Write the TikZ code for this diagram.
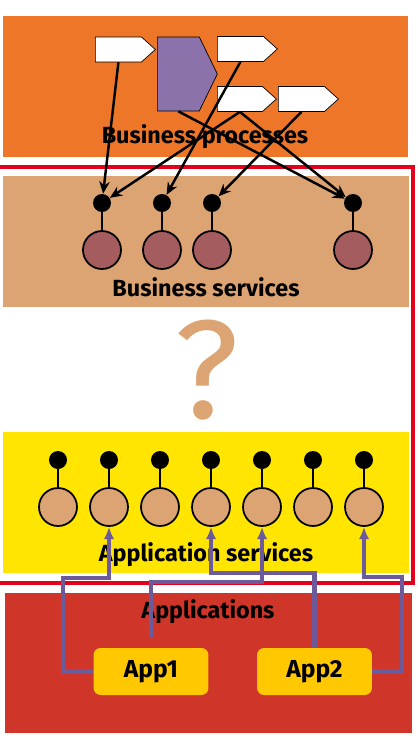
\documentclass[tikz,border=0pt]{standalone}
\usepackage{fontspec}
\setmainfont{Fira Sans}
\usetikzlibrary{positioning, calc, arrows.meta, shapes.symbols}

\definecolor{procorange}{HTML}{EE7628}
\definecolor{svctan}{HTML}{DBA472}
\definecolor{appyellow}{HTML}{FFE500}
\definecolor{appred}{HTML}{CF3529}
\definecolor{boxyellow}{HTML}{FFC800}
\definecolor{procpurple}{HTML}{8B72AA}
\definecolor{svcbrown}{HTML}{A45C5E}
\definecolor{linkpurple}{HTML}{6C5A9A}
\definecolor{framered}{HTML}{E2001A}

\tikzset{
    layerlabel/.style={font=\bfseries\fontsize{13.3}{15}\selectfont, inner sep=0pt},
    procstep/.style={signal, signal to=east, signal pointer angle=84, draw, fill=white,
        minimum width=1.2cm, minimum height=0.5cm, inner sep=0pt, anchor=west},
    iface/.style={circle, fill=black, minimum size=0.36cm, inner sep=0pt},
    service/.style={circle, draw, line width=1pt, minimum size=0.76cm, inner sep=0pt},
    appbox/.style={rectangle, rounded corners=4pt, fill=boxyellow, minimum width=2.3cm,
        minimum height=0.94cm, font=\bfseries\fontsize{14}{16}\selectfont},
    uses/.style={-{Stealth[length=7pt,width=6pt]}, line width=1.4pt},
    realizes/.style={-{Latex[length=7pt,width=6pt]}, linkpurple, line width=2.4pt},
}

\begin{document}
\begin{tikzpicture}[x=0.02cm, y=-0.02cm]
    \useasboundingbox (0,0) rectangle (417,750);
    % layers
    \fill[procorange] (3,16) rectangle (408,157);
    \fill[svctan] (3,176) rectangle (409,307);
    \fill[appyellow] (3,432) rectangle (409,573);
    \fill[appred] (5,593) rectangle (412,733);
    \draw[framered, line width=2.2pt] (-5,167) rectangle (413,583);

    % business processes
    \node[procstep] (wp1) at (95,49.5) {};
    \node[procstep, fill=procpurple, signal pointer angle=128, minimum width=1.2cm, minimum height=1.48cm] (pp) at (157,74) {};
    \node[procstep] (wp2) at (217,49) {};
    \node[procstep, minimum width=1.18cm] (wp3) at (217,99) {};
    \node[procstep] (wp4) at (278,99) {};
    \node[layerlabel] (bp) at (205,137) {Business processes};

    % business services
    \foreach \i/\x in {1/102,2/162,3/212,4/353} {
        \node[iface] (bd\i) at (\x,203) {};
        \node[service, fill=svcbrown] (bs\i) at (\x,250) {};
        \draw[line width=1pt] (bd\i) -- (bs\i);
    }
    \node[layerlabel] (bsl) at (206,287) {Business services};

    \draw[uses] (wp1.south) -- (bd1);
    \draw[uses] (wp2.south) -- (bd2);
    \draw[uses] (wp3.south) -- (bd1);
    \draw[uses] (wp3.south) -- (bd4);
    \draw[uses] (pp.south) -- (bd4);
    \draw[uses] (wp4.south) -- (bd3);

    \node[text=svctan, font=\fontsize{80}{80}\selectfont, inner sep=0pt] (gap) at (207,370) {?};

    % application services
    \foreach \i in {1,...,7} {
        \node[iface] (ad\i) at ({58+51*(\i-1)},460) {};
        \node[service, fill=svctan] (as\i) at ({58+51*(\i-1)},507) {};
        \draw[line width=1pt] (ad\i) -- (as\i);
    }
    \node[layerlabel] (asl) at (206,555) {Application services};

    % applications
    \node[layerlabel] (apl) at (208,612) {Applications};
    \node[appbox] (app1) at (151,671.5) {App1};
    \node[appbox] (app2) at (314.5,671.5) {App2};

    \draw[realizes] (app1.west) -| (63,578) -| (as2.south);
    \draw[realizes, shorten <=5.6pt] (app1.north) |- (262,582) -- (as5.south);
    \draw[realizes] (app2.north) |- (211,573) -- (as4.south);
    \draw[realizes] (app2.east) -| (402,577) -| (as7.south);
\end{tikzpicture}
\end{document}
